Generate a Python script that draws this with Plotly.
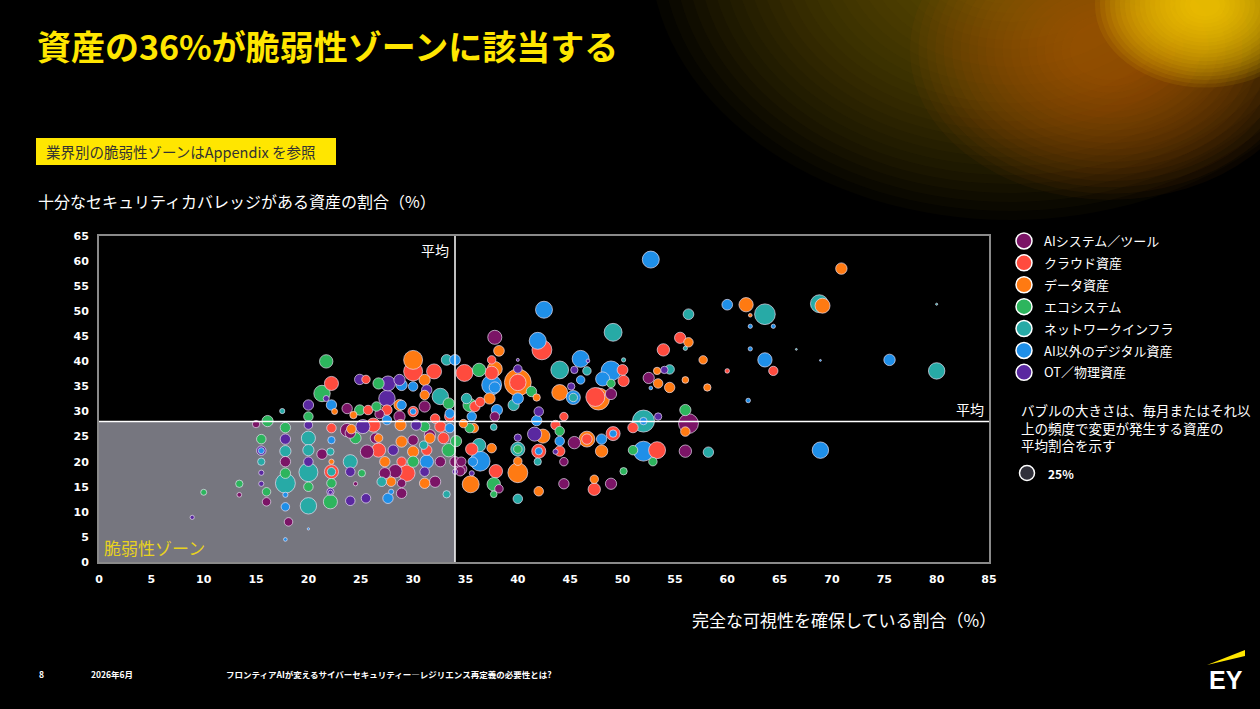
import pandas as pd
import plotly.graph_objects as go

# 参照画像の座標（ピクセル）
W, H = 1260, 709
L, R, T, B = 99, 989, 236, 562   # プロット領域
JP = 'Noto Sans CJK JP, Noto Sans, sans-serif'

categories = ['AIシステム／ツール', 'クラウド資産', 'データ資産', 'エコシステム',
              'ネットワークインフラ', 'AI以外のデジタル資産', 'OT／物理資産']
colors = ['#7B1466', '#FF4B3E', '#FF7A12', '#2DB55D', '#27AAA6', '#1F8FE8', '#5A28A0']

# x = 完全な可視性を確保している割合, y = セキュリティカバレッジ, s = 毎月以上変更がある資産の割合
ai_x = [37.8, 52.5, 56.3, 56.0, 44.4, 48.9, 38.2, 34.6, 45.4, 44.4, 48.9, 15.0, 13.4, 16.0, 17.8, 18.1, 21.3, 24.5, 23.7, 25.6,
        26.4, 27.3, 28.9, 28.3, 28.9, 30.0, 32.1, 32.6, 34.0, 34.5, 31.1, 28.7, 23.7, 31.6, 37.8, 34.6, 24.0, 26.8]
ai_y = [44.8, 36.7, 27.6, 22.1, 15.6, 15.6, 14.6, 18.5, 23.8, 20.0, 33.5, 27.5, 13.4, 12.0, 20.0, 8.0, 21.5, 15.6, 26.3, 22.0,
        24.7, 17.7, 13.7, 18.1, 15.7, 24.3, 16.0, 20.0, 20.0, 18.1, 31.0, 29.0, 30.6, 25.3, 29.0, 20.0, 25.7, 29.5]
ai_s = [22, 14, 44, 17, 12, 14, 8, 14, 17, 8, 14, 6, 2.5, 8, 12, 8, 12, 2, 20, 20,
        12, 14, 12, 20, 8, 12, 14, 12, 12, 10, 14, 14, 12, 14, 10, 10, 12, 10]

cl_x = [42.3, 37.5, 34.9, 37.5, 50.0, 50.1, 47.4, 53.9, 55.5, 60.0, 64.4, 51.0, 53.3, 47.3, 37.9, 35.6, 44.0, 49.1, 42.0, 40.0,
        22.2, 22.2, 22.2, 25.5, 30.0, 32.0, 32.1, 26.7, 28.9, 29.4, 31.3, 32.9, 35.9, 36.4, 30.0, 33.5, 25.7, 27.5, 26.2, 32.6,
        44.4, 43.6, 46.6]
cl_y = [42.3, 40.3, 37.7, 37.7, 38.3, 36.1, 32.9, 42.3, 44.7, 38.1, 38.1, 26.8, 22.3, 14.5, 18.1, 22.5, 22.1, 25.6, 22.1, 35.8,
        35.6, 26.7, 18.0, 36.4, 38.0, 38.0, 28.6, 22.3, 20.0, 17.7, 22.3, 24.7, 31.0, 31.9, 30.0, 29.0, 30.3, 30.3, 27.3, 27.0,
        29.0, 27.3, 24.5]
cl_s = [44, 8, 32, 20, 13, 14, 40, 17, 14, 2.3, 9.6, 12, 32, 17, 20, 17, 12, 22, 22, 30,
        22, 10, 22, 8, 40, 25, 10, 22, 10, 30, 12, 14, 12, 10, 12, 12, 10, 12, 22, 14,
        8, 10, 12]

da_x = [70.9, 61.8, 62.2, 69.1, 38.2, 37.8, 40.0, 47.7, 44.0, 53.4, 53.3, 54.5, 56.3, 57.7, 56.0, 58.1, 56.0, 47.3, 42.0, 35.5,
        40.0, 40.0, 46.6, 48.0, 42.4, 37.5, 22.5, 22.2, 24.1, 26.7, 27.3, 27.9, 28.9, 30.0, 31.6, 30.0, 31.1, 28.7, 35.8, 34.8,
        31.1, 37.3, 41.8, 24.3, 28.8, 31.1]
da_y = [58.5, 51.3, 49.2, 51.1, 42.1, 38.5, 35.8, 32.5, 33.8, 35.6, 38.1, 34.8, 43.8, 40.3, 36.3, 34.8, 26.0, 16.5, 14.1, 15.5,
        17.8, 20.1, 24.5, 22.1, 25.1, 22.7, 30.0, 20.0, 26.5, 24.7, 20.0, 16.0, 24.0, 22.0, 24.7, 40.3, 33.3, 31.3, 26.7, 27.6,
        36.3, 32.6, 32.8, 29.3, 27.3, 15.7]
da_s = [14.5, 22.7, 1.5, 25, 12.7, 25, 80, 54, 28, 10, 6, 12, 10, 8, 5, 6, 10, 8, 10, 32,
        44, 8, 28, 17, 22, 10, 4, 3, 10, 8, 12, 10, 14, 14, 12, 40, 10, 14, 10, 8,
        14, 14, 6, 6, 14, 12]

ec_x = [36.3, 48.9, 56.0, 51.0, 52.9, 50.1, 37.7, 37.7, 44.0, 34.1, 10.0, 13.4, 16.1, 15.5, 16.0, 17.8, 17.8, 20.0, 20.0, 21.7,
        21.3, 22.2, 22.1, 25.1, 26.7, 30.0, 33.4, 35.4, 33.4, 35.4, 24.5, 24.9, 26.5, 31.1, 41.3, 40.0]
ec_y = [38.3, 35.6, 30.3, 22.3, 20.0, 18.1, 15.5, 13.5, 26.1, 24.1, 13.9, 15.6, 28.1, 24.5, 14.0, 26.8, 17.7, 29.0, 15.0, 40.0,
        33.6, 15.7, 12.0, 17.7, 35.6, 20.0, 31.6, 31.3, 22.3, 26.7, 24.7, 30.3, 31.0, 27.0, 34.0, 22.5]
ec_s = [20, 8, 14, 10, 8, 6, 20, 5, 10, 14, 4, 6, 14, 10, 8, 12, 12, 10, 10, 20,
        30, 10, 22, 6, 14, 14, 14, 20, 20, 10, 14, 12, 10, 12, 12, 8]

nw_x = [80.0, 63.6, 56.3, 68.8, 80.0, 49.1, 33.2, 44.0, 46.6, 45.3, 50.1, 54.5, 56.0, 52.0, 58.2, 40.0, 33.2, 41.9, 40.0, 36.3,
        15.5, 17.5, 17.8, 17.8, 20.0, 20.0, 20.0, 20.0, 22.1, 24.0, 27.0, 31.0, 32.6, 35.1, 39.6, 37.7, 66.6, 22.2]
nw_y = [51.4, 49.4, 49.4, 51.5, 38.1, 45.8, 40.3, 38.3, 38.1, 32.8, 40.3, 38.4, 42.6, 28.1, 21.9, 12.6, 13.5, 20.0, 22.5, 23.3,
        20.0, 30.1, 22.1, 15.7, 24.7, 22.3, 17.9, 11.2, 22.0, 20.0, 16.0, 23.3, 33.0, 32.6, 31.3, 26.9, 42.4, 18.0]
nw_s = [0.5, 47.6, 12.7, 35.5, 30, 35.5, 12.7, 35, 8, 8, 2, 10, 2, 54, 12, 10, 6, 6, 22, 20,
        6, 3, 14, 44, 22, 14, 40, 30, 6, 22, 10, 8, 30, 12, 14, 5, 0.4, 8]

bl_x = [52.7, 60.0, 62.2, 64.4, 62.2, 63.6, 75.5, 62.0, 68.9, 42.5, 41.9, 34.0, 37.5, 46.0, 46.0, 48.9, 48.1, 45.3, 52.7, 52.0,
        52.0, 36.4, 48.0, 44.0, 37.8, 40.0, 41.8, 17.8, 17.8, 17.8, 20.0, 22.2, 22.2, 27.6, 27.9, 31.3, 30.0, 33.5, 33.5, 35.7,
        35.6, 28.9, 30.0, 27.5, 38.0, 28.9, 68.9, 15.5, 49.1, 42.0]
bl_y = [60.3, 51.3, 47.0, 47.0, 42.5, 40.3, 40.3, 32.2, 22.3, 50.3, 44.1, 40.3, 35.3, 40.5, 36.3, 38.1, 36.5, 32.8, 34.7, 28.1,
        22.1, 20.1, 24.5, 24.1, 34.8, 32.6, 28.2, 13.4, 11.0, 4.5, 6.6, 31.3, 24.3, 12.7, 14.0, 20.0, 30.0, 29.6, 26.7, 20.0,
        29.0, 35.3, 35.0, 28.3, 30.3, 31.3, 40.2, 22.2, 25.6, 22.1]
bl_s = [32, 12.7, 2, 2, 2, 22.7, 14.5, 2.3, 30, 32, 32, 12.7, 44, 32, 8, 44, 22, 22, 1.5, 6,
        44, 44, 12, 10, 14, 14, 12, 3, 8, 1.5, 0.6, 12, 6, 12, 3, 20, 4, 10, 10, 10,
        10, 14, 10, 10, 14, 10, 0.4, 4, 6, 6]

ot_x = [8.9, 15.5, 15.5, 15.5, 17.8, 20.0, 20.0, 20.0, 21.7, 22.1, 24.0, 25.5, 24.0, 24.9, 27.6, 27.5, 28.7, 31.3, 28.1, 31.1,
        34.0, 35.6, 40.0, 40.0, 45.4, 45.1, 46.7, 53.4, 54.0, 41.6, 40.0, 43.6, 42.0, 30.3, 25.2, 22.1]
ot_y = [8.9, 22.2, 17.8, 15.6, 24.5, 31.3, 27.3, 20.0, 32.6, 14.0, 12.2, 12.7, 18.0, 36.4, 35.6, 32.6, 36.3, 34.3, 22.3, 18.0,
        18.0, 17.7, 38.5, 40.3, 38.3, 35.0, 40.1, 29.0, 38.3, 25.5, 24.8, 22.0, 30.0, 27.3, 27.0, 13.9]
ot_s = [2, 10, 3, 3, 12, 12, 8, 10, 4, 6, 10, 10, 10, 12, 25, 30, 14, 12, 12, 10,
        3, 3, 8, 1, 6, 6, 1.5, 6, 6, 22, 6, 3, 10, 12, 22, 2]

avg_visibility = 34   # 平均（x）
avg_coverage = 28     # 平均（y）
sample_size = [25]    # バブルサイズの凡例

SIZEREF = 0.222


def fx(px):
    return (px - L) / (R - L)


def fy(py):
    return (B - py) / (B - T)


series = [(ai_x, ai_y, ai_s), (cl_x, cl_y, cl_s), (da_x, da_y, da_s), (ec_x, ec_y, ec_s),
          (nw_x, nw_y, nw_s), (bl_x, bl_y, bl_s), (ot_x, ot_y, ot_s)]
frames = []
for name, color, (xs, ys, ss) in zip(categories, colors, series):
    frames.append(pd.DataFrame({'x': xs, 'y': ys, 'size': ss, 'cat': name, 'color': color}))
df = pd.concat(frames, ignore_index=True)
df = df.sort_values('size', ascending=False, kind='stable')  # 小さいバブルを上に

fig = go.Figure()

fig.add_trace(go.Scatter(
    x=df['x'], y=df['y'], mode='markers', showlegend=False,
    hovertext=df['cat'], hoverinfo='text+x+y',
    marker=dict(size=df['size'], sizemode='area', sizeref=SIZEREF, color=df['color'], opacity=1,
                line=dict(color='rgba(235,225,245,0.85)', width=0.8)),
))

# 凡例用
for name, color in zip(categories, colors):
    fig.add_trace(go.Scatter(x=[None], y=[None], mode='markers', name=name, legendgroup=name,
                             marker=dict(size=16, color=color, line=dict(color='white', width=1.5))))

shapes = []
# 右上の光
def glow(cx, cy, r_max, r_min, n, rgb, alpha, squash=0.75):
    for i in range(n):
        r = r_max - (r_max - r_min) * i / (n - 1)
        shapes.append(dict(type='circle', xref='paper', yref='paper', xsizemode='pixel', ysizemode='pixel',
                           xanchor=fx(cx), yanchor=fy(cy), x0=-r, x1=r, y0=-r * squash, y1=r * squash,
                           fillcolor=f'rgba({rgb},{alpha})', line_width=0, layer='below'))


glow(1010, -50, 360, 60, 26, '150,125,0', 0.045)
glow(1110, 50, 200, 40, 20, '190,100,0', 0.05)
glow(1205, 5, 110, 15, 20, '255,210,0', 0.09)

# 脆弱性ゾーン
shapes.append(dict(type='rect', x0=0, x1=avg_visibility, y0=0, y1=avg_coverage,
                   fillcolor='#76767f', line_width=0, layer='below'))
# 平均線
shapes.append(dict(type='line', x0=avg_visibility, x1=avg_visibility, y0=0, y1=65,
                   line=dict(color='white', width=1.5), layer='above'))
shapes.append(dict(type='line', x0=0, x1=85, y0=avg_coverage, y1=avg_coverage,
                   line=dict(color='white', width=1.5), layer='above'))
# 25% のサイズ見本（バブルと同じ sizeref で直径を計算）
d = (2 * sample_size[0] / SIZEREF) ** 0.5
shapes.append(dict(type='circle', xref='paper', yref='paper', xsizemode='pixel', ysizemode='pixel',
                   xanchor=fx(1027), yanchor=fy(473), x0=-d / 2, x1=d / 2, y0=-d / 2, y1=d / 2,
                   fillcolor='#30303a', line=dict(color='white', width=1.5)))
# 黄色いボックス
shapes.append(dict(type='rect', xref='paper', yref='paper', x0=fx(36), x1=fx(336), y0=fy(165), y1=fy(138),
                   fillcolor='#FFE600', line_width=0))
# EY ロゴのバー
shapes.append(dict(type='path', xref='paper', yref='paper',
                   path=f'M {fx(1207)},{fy(665)} L {fx(1245)},{fy(650)} L {fx(1245)},{fy(656)} Z',
                   fillcolor='#FFE600', line_width=0))

annotations = [
    dict(text='資産の36%が脆弱性ゾーンに該当する', x=fx(35), y=fy(45), xanchor='left', yanchor='middle',
         font=dict(size=34, color='#FFE600', family=JP, weight='bold')),
    dict(text='業界別の脆弱性ゾーンはAppendix を参照', x=fx(44), y=fy(151.5), xanchor='left', yanchor='middle',
         font=dict(size=14.5, color='#333333', family=JP)),
    dict(text='十分なセキュリティカバレッジがある資産の割合（%）', x=fx(36), y=fy(201), xanchor='left', yanchor='middle',
         font=dict(size=16, color='white', family=JP)),
    dict(text='完全な可視性を確保している割合（%）', x=fx(998), y=fy(619), xanchor='right', yanchor='middle',
         font=dict(size=17, color='white', family=JP)),
    dict(text='平均', x=avg_visibility, y=65, xref='x', yref='y', xanchor='right', yanchor='top',
         xshift=-4, yshift=-2, font=dict(size=14, color='white', family=JP)),
    dict(text='平均', x=85, y=avg_coverage, xref='x', yref='y', xanchor='right', yanchor='bottom',
         xshift=-3, yshift=1, font=dict(size=14, color='white', family=JP)),
    dict(text='脆弱性ゾーン', x=0, y=0, xref='x', yref='y', xanchor='left', yanchor='bottom',
         xshift=3, yshift=0, font=dict(size=17, color='#E8D21E', family=JP)),
    dict(text='バブルの大きさは、毎月またはそれ以<br>上の頻度で変更が発生する資産の<br>平均割合を示す',
         x=fx(1019), y=fy(398), xanchor='left', yanchor='top', align='left',
         font=dict(size=13.5, color='white', family=JP)),
    dict(text='25%', x=fx(1046), y=fy(473), xanchor='left', yanchor='middle',
         font=dict(size=12, color='white', family=JP, weight='bold')),
    dict(text='8', x=fx(37), y=fy(674), xanchor='left', yanchor='middle',
         font=dict(size=8.5, color='white', family=JP, weight='bold')),
    dict(text='2026年6月', x=fx(89), y=fy(674), xanchor='left', yanchor='middle',
         font=dict(size=8.5, color='white', family=JP, weight='bold')),
    dict(text='フロンティアAIが変えるサイバーセキュリティー―レジリエンス再定義の必要性とは?', x=fx(224), y=fy(674),
         xanchor='left', yanchor='middle', font=dict(size=8.5, color='white', family=JP, weight='bold')),
    dict(text='EY', x=fx(1226), y=fy(680), xanchor='center', yanchor='middle',
         font=dict(size=25, color='white', family='Liberation Sans, Arial, sans-serif', weight='bold')),
]
for a in annotations:
    a.setdefault('xref', 'paper')
    a.setdefault('yref', 'paper')
    a['showarrow'] = False

axis_style = dict(showgrid=False, zeroline=False, showline=True, mirror=True, linecolor='#8a8a8a', linewidth=2,
                  ticks='', ticklabelstandoff=6, dtick=5, fixedrange=True,
                  tickfont=dict(size=11, color='white', family='DejaVu Sans, sans-serif', weight='bold'))

fig.update_layout(
    width=W, height=H, margin=dict(l=L, r=W - R, t=T, b=H - B),
    paper_bgcolor='black', plot_bgcolor='black',
    xaxis=dict(range=[0, 85], **axis_style),
    yaxis=dict(range=[0, 65], **axis_style),
    shapes=shapes, annotations=annotations,
    legend=dict(x=fx(1004), y=fy(226), xanchor='left', yanchor='top', bgcolor='rgba(0,0,0,0)',
                font=dict(size=13, color='white', family=JP), tracegroupgap=2, itemclick=False),
    hovermode='closest',
)

# ページ余白を消して背景を黒に
fig.write_html('out.html', config={'displayModeBar': False},
               post_script="document.body.style.margin='0';document.body.style.background='black';")
